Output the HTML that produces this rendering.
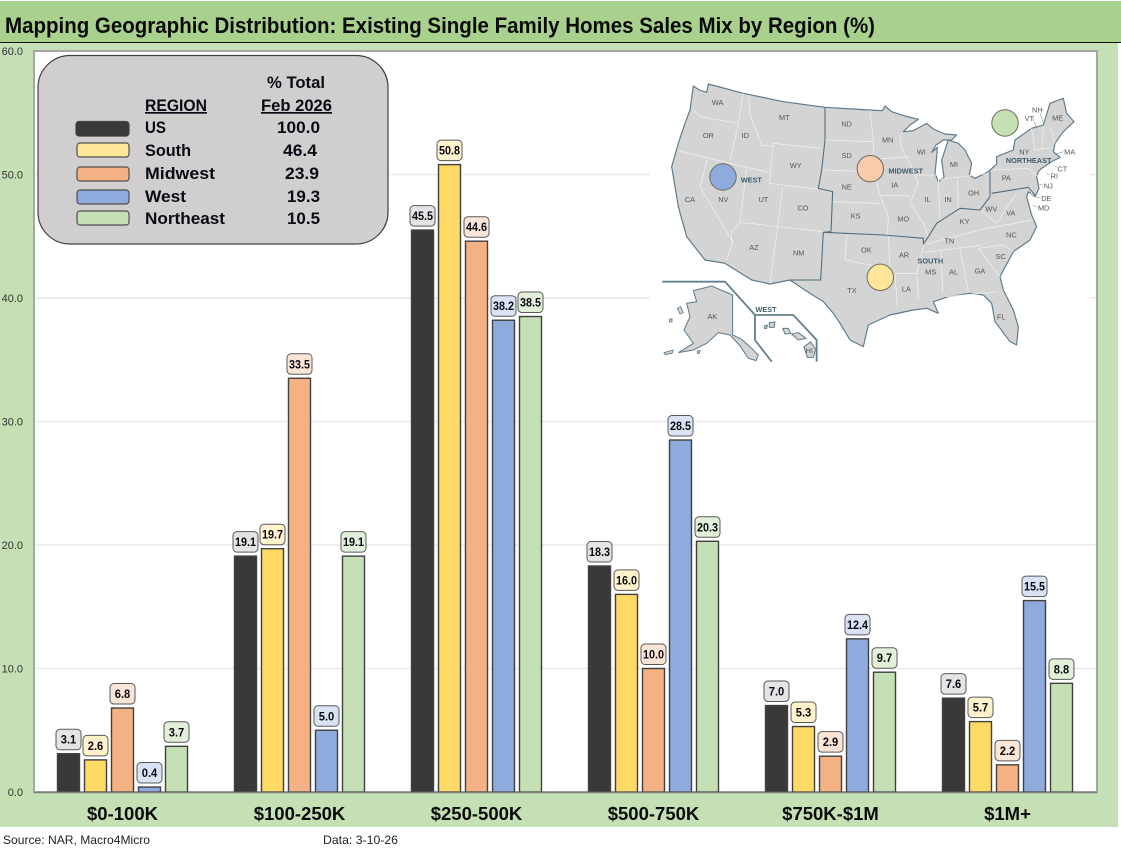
<!DOCTYPE html>
<html lang="en">
<head>
<meta charset="utf-8">
<title>Existing Single Family Homes Sales Mix by Region</title>
<style>
html,body{margin:0;padding:0;background:#fff;}
svg{display:block;font-family:"Liberation Sans",sans-serif;}
.st{font-size:22px;fill:#555;text-anchor:middle;}
.rg{font-size:22px;font-weight:bold;fill:#3d5a6c;text-anchor:middle;}
.lg{font-size:17px;font-weight:bold;fill:#0a0a14;}
</style>
</head>
<body>
<svg id="chart" width="1121" height="852" viewBox="0 0 1121 852" xmlns="http://www.w3.org/2000/svg">
  <rect x="0" y="0" width="1121" height="852" fill="#ffffff"/>
  <rect x="0" y="43" width="1118" height="784" fill="#c5e0b4"/>
  <rect x="0" y="1" width="1121" height="41" fill="#a9d18e"/>
  <line x1="0" y1="42.5" x2="1121" y2="42.5" stroke="#111" stroke-width="1"/>
  <text x="5" y="33" font-size="22" font-weight="bold" fill="#0a0a0a" textLength="870" lengthAdjust="spacingAndGlyphs">Mapping Geographic Distribution: Existing Single Family Homes Sales Mix by Region (%)</text>
  <rect x="34" y="51" width="1063" height="741" fill="#ffffff" stroke="#a6a6a6" stroke-width="2"/>
  <g id="grid"></g>
  <g id="yticks"></g>
  <rect x="650" y="60" width="440" height="310" fill="#ffffff"/>
  <g id="bars"></g>
  <g id="xlabels"></g>
  <line x1="34" y1="792.5" x2="1097" y2="792.5" stroke="#7f7f7f" stroke-width="1.5"/>
  <g id="labels"></g>

  <g>
    <rect x="38" y="55.5" width="350" height="188.5" rx="32" ry="32" fill="#d0cece" stroke="#404040" stroke-width="1.2"/>
    <text class="lg" x="267" y="88" textLength="58" lengthAdjust="spacingAndGlyphs">% Total</text>
    <text class="lg" x="145" y="111" textLength="62" lengthAdjust="spacingAndGlyphs" text-decoration="underline">REGION</text>
    <text class="lg" x="261" y="111" textLength="71" lengthAdjust="spacingAndGlyphs" text-decoration="underline">Feb 2026</text>
    <rect x="76" y="121.5" width="53" height="14.5" rx="3" fill="#3b3838" stroke="#404040" stroke-width="1.2"/>
    <rect x="77" y="143" width="52" height="14" rx="3" fill="#ffe699" stroke="#505050" stroke-width="1.2"/>
    <rect x="77" y="167" width="52" height="14" rx="3" fill="#f4b183" stroke="#505050" stroke-width="1.2"/>
    <rect x="77" y="190" width="52" height="14" rx="3" fill="#8faadc" stroke="#505050" stroke-width="1.2"/>
    <rect x="77" y="211" width="52" height="14" rx="3" fill="#c5e0b4" stroke="#505050" stroke-width="1.2"/>
    <text class="lg" x="145" y="133" textLength="21" lengthAdjust="spacingAndGlyphs">US</text>
    <text class="lg" x="145" y="156" textLength="46" lengthAdjust="spacingAndGlyphs">South</text>
    <text class="lg" x="145" y="179" textLength="70" lengthAdjust="spacingAndGlyphs">Midwest</text>
    <text class="lg" x="145" y="202" textLength="41" lengthAdjust="spacingAndGlyphs">West</text>
    <text class="lg" x="145" y="224" textLength="80" lengthAdjust="spacingAndGlyphs">Northeast</text>
    <text class="lg" x="277" y="133" textLength="43" lengthAdjust="spacingAndGlyphs">100.0</text>
    <text class="lg" x="283" y="156" textLength="34" lengthAdjust="spacingAndGlyphs">46.4</text>
    <text class="lg" x="285" y="179" textLength="34" lengthAdjust="spacingAndGlyphs">23.9</text>
    <text class="lg" x="287" y="202" textLength="33" lengthAdjust="spacingAndGlyphs">19.3</text>
    <text class="lg" x="287" y="224" textLength="33" lengthAdjust="spacingAndGlyphs">10.5</text>
  </g>

  <g transform="translate(650,60) scale(0.33333)" style="filter:blur(0.9px)">
    <path fill="#d4d4d4" stroke="#5d7a8c" stroke-width="3.5" stroke-linejoin="round" d="M130,78 L148,90 170,97 175,72 280,100 400,125 525,142 660,150 697,152 705,138 725,155 765,168 805,178 780,195 760,215 790,212 830,190 850,207 885,222 920,225 905,240 880,240 858,255 845,277 862,262 860,290 855,340 865,365 882,352 875,300 895,240 925,250 945,270 965,310 958,345 975,355 1015,335 1040,312 1040,290 1090,270 1095,240 1145,205 1180,195 1200,130 1240,115 1250,160 1272,185 1240,215 1215,250 1210,275 1230,292 1205,305 1175,325 1165,335 1160,350 1167,385 1155,410 1135,395 1130,410 1145,465 1160,500 1140,540 1090,575 1050,650 1060,690 1090,750 1105,800 1100,855 1080,845 1050,805 1035,785 1025,730 1000,705 960,700 895,710 850,725 865,760 830,745 790,750 720,765 655,795 640,860 600,840 570,790 550,760 520,725 480,700 420,660 360,672 305,660 225,610 165,600 110,530 85,440 65,320 85,250 105,190 120,150 Z"/>
    <g fill="none" stroke="#f0f0f0" stroke-width="2.2">
      <path d="M130,150 L150,170 265,190 M280,100 L265,190 240,305 M295,105 L300,165 320,215 335,255 370,260 M370,250 L515,265 M370,250 L358,370 505,388 M85,273 L240,310 358,338 M172,297 L150,380 248,545 230,600 M290,325 L270,487 245,515 245,545 M398,380 L383,500 360,670 M270,487 L520,515"/>
      <path d="M523,240 L670,245 M660,150 L670,245 670,330 690,405 715,470 712,525 M515,330 L670,335 M548,425 L690,430 M670,298 L780,290 M690,405 L780,408 M750,225 L755,265 780,310 805,370 780,430 820,490 835,530 M790,345 L860,345 M865,360 L870,480 M922,355 L925,445 M870,358 L1015,340"/>
      <path d="M830,552 L1010,505 1150,480 M815,578 L1000,555 M873,575 L878,700 M930,565 L955,695 M890,710 L1045,695 M985,565 L1050,650 M985,565 L1060,555 1090,575 M820,560 L800,640 805,720 M735,640 L742,740 M735,640 L805,640 M590,525 L585,600 660,615 720,625 M715,525 L720,625 M990,450 L1040,490 1100,400 M1030,330 L1135,325 1165,350 M1145,205 L1155,270 M1180,200 L1175,270 M1200,200 L1215,250 M1150,270 L1210,262 M1140,385 L1150,415"/>
    </g>
    <g fill="none" stroke="#4f6b7d" stroke-width="3.2" stroke-linejoin="round">
      <path d="M525,142 L525,240 515,330 505,385 548,395 543,515 M543,515 L520,517 512,660 420,660 M520,517 L700,525 820,535 820,552 835,530 860,490 930,445 990,450 1020,410 1020,335 M1025,400 L1135,382 1155,405"/>
    </g>
    <path fill="#d4d4d4" stroke="#5d7a8c" stroke-width="3" d="M130,692 L185,678 248,705 248,825 275,838 305,865 325,885 318,902 295,895 268,855 240,825 205,818 170,850 130,870 85,878 130,850 102,810 120,770 110,730 140,725 Z"/>
    <path fill="#d4d4d4" stroke="#5d7a8c" stroke-width="3" d="M398,805 L415,805 422,820 405,822 Z M425,822 L445,818 468,835 445,840 Z M462,860 L482,846 497,868 490,892 472,892 Z M358,788 L375,786 372,802 358,802 Z M343,798 L352,796 350,805 343,805 Z"/>
    <path fill="#d4d4d4" stroke="#5d7a8c" stroke-width="2.5" d="M82,745 L92,740 100,758 90,762 Z M58,778 L66,776 66,786 58,786 Z M42,878 L70,870 66,880 46,884 Z M142,872 L150,872 148,880 142,880 Z"/>
    <path fill="none" stroke="#64808f" stroke-width="5.5" d="M37,665 L225,665 315,765 430,765 500,840 500,905 M315,765 L315,840 365,905"/>
    <g fill="none" stroke="#777" stroke-width="1.5">
      <path d="M1148,172 L1160,205 M1170,160 L1180,188 M1215,283 L1240,275 M1215,318 L1222,322 M1190,340 L1198,345 M1168,372 L1180,376 M1155,410 L1172,414 M1148,436 L1162,442"/>
    </g>
    <g>
      <text class="st" x="203" y="135">WA</text>
      <text class="st" x="175" y="234">OR</text>
      <text class="st" x="286" y="234">ID</text>
      <text class="st" x="403" y="180">MT</text>
      <text class="st" x="437" y="324">WY</text>
      <text class="st" x="120" y="426">CA</text>
      <text class="st" x="220" y="426">NV</text>
      <text class="st" x="340" y="426">UT</text>
      <text class="st" x="459" y="451">CO</text>
      <text class="st" x="312" y="570">AZ</text>
      <text class="st" x="446" y="587">NM</text>
      <text class="st" x="590" y="200">ND</text>
      <text class="st" x="590" y="294">SD</text>
      <text class="st" x="590" y="388">NE</text>
      <text class="st" x="617" y="475">KS</text>
      <text class="st" x="713" y="247">MN</text>
      <text class="st" x="734" y="382">IA</text>
      <text class="st" x="760" y="484">MO</text>
      <text class="st" x="814" y="283">WI</text>
      <text class="st" x="833" y="426">IL</text>
      <text class="st" x="894" y="426">IN</text>
      <text class="st" x="912" y="321">MI</text>
      <text class="st" x="971" y="406">OH</text>
      <text class="st" x="944" y="492">KY</text>
      <text class="st" x="898" y="551">TN</text>
      <text class="st" x="1024" y="454">WV</text>
      <text class="st" x="1082" y="467">VA</text>
      <text class="st" x="1084" y="533">NC</text>
      <text class="st" x="1052" y="597">SC</text>
      <text class="st" x="990" y="641">GA</text>
      <text class="st" x="911" y="643">AL</text>
      <text class="st" x="842" y="644">MS</text>
      <text class="st" x="769" y="695">LA</text>
      <text class="st" x="762" y="593">AR</text>
      <text class="st" x="649" y="577">OK</text>
      <text class="st" x="606" y="699">TX</text>
      <text class="st" x="1054" y="779">FL</text>
      <text class="st" x="1069" y="361">PA</text>
      <text class="st" x="1123" y="283">NY</text>
      <text class="st" x="1223" y="181">ME</text>
      <text class="st" x="1162" y="157">NH</text>
      <text class="st" x="1138" y="183">VT</text>
      <text class="st" x="1259" y="283">MA</text>
      <text class="st" x="1237" y="334">CT</text>
      <text class="st" x="1213" y="356">RI</text>
      <text class="st" x="1195" y="385">NJ</text>
      <text class="st" x="1189" y="423">DE</text>
      <text class="st" x="1181" y="451">MD</text>
      <text class="st" x="187" y="777">AK</text>
      <text class="st" x="478" y="879">HI</text>
    </g>
    <text class="rg" x="304" y="367">WEST</text>
    <text class="rg" x="767" y="341">MIDWEST</text>
    <text class="rg" x="1136" y="309">NORTHEAST</text>
    <text class="rg" x="841" y="611">SOUTH</text>
    <text class="rg" x="348" y="756">WEST</text>
  </g>
  <g stroke="#6b6b5f" stroke-width="1">
    <circle cx="723" cy="177" r="13.2" fill="#8faadc"/>
    <circle cx="870.3" cy="168.7" r="13.2" fill="#f8cbad"/>
    <circle cx="1005" cy="123" r="13.2" fill="#c5e0b4"/>
    <circle cx="880.3" cy="277.3" r="13.2" fill="#ffe699"/>
  </g>

  <text x="3" y="844" font-size="12" fill="#222" textLength="147" lengthAdjust="spacingAndGlyphs">Source: NAR, Macro4Micro</text>
  <text x="323" y="844" font-size="12" fill="#222" textLength="75" lengthAdjust="spacingAndGlyphs">Data: 3-10-26</text>
</svg>
<script>
const categories = ["$0-100K", "$100-250K", "$250-500K", "$500-750K", "$750K-$1M", "$1M+"];
const usValues = [3.1, 19.1, 45.5, 18.3, 7.0, 7.6];
const southValues = [2.6, 19.7, 50.8, 16.0, 5.3, 5.7];
const midwestValues = [6.8, 33.5, 44.6, 10.0, 2.9, 2.2];
const westValues = [0.4, 5.0, 38.2, 28.5, 12.4, 15.5];
const northeastValues = [3.7, 19.1, 38.5, 20.3, 9.7, 8.8];
const yTicks = [0, 10, 20, 30, 40, 50, 60];

const series = [
  { key: "us", values: usValues, fill: "#3b3838", tint: "#e4e4e4" },
  { key: "south", values: southValues, fill: "#ffd966", tint: "#fff2cc" },
  { key: "midwest", values: midwestValues, fill: "#f4b183", tint: "#fbe5d6" },
  { key: "west", values: westValues, fill: "#8faadc", tint: "#dae3f3" },
  { key: "northeast", values: northeastValues, fill: "#c5e0b4", tint: "#e2f0d9" }
];

const NS = "http://www.w3.org/2000/svg";
const plotLeft = 34, plotRight = 1096, plotTop = 51, plotBottom = 792;
const barWidth = 22, barPitch = 27;

function yScale(v) { return plotBottom - (v / 60) * (plotBottom - plotTop); }
function xCenter(i) { return plotLeft + (i + 0.5) * (plotRight - plotLeft) / categories.length; }
function xBar(i, s) { return xCenter(i) + (s - (series.length - 1) / 2) * barPitch - barWidth / 2; }
function make(tag, attrs, parent, text) {
  const el = document.createElementNS(NS, tag);
  for (const k in attrs) el.setAttribute(k, attrs[k]);
  if (text !== undefined) el.textContent = text;
  parent.appendChild(el);
  return el;
}

const gridG = document.getElementById("grid");
const tickG = document.getElementById("yticks");
yTicks.forEach(function (t) {
  if (t > 0 && t < 60) {
    const gl = make("line", { x1: plotLeft + 1, x2: plotRight, y1: yScale(t), y2: yScale(t), stroke: "#e9e9e9", "stroke-width": 1.5 }, gridG);
    
    
  }
  const tl = make("text", { x: 23, y: yScale(t) + 4, "font-size": 11, fill: "#333", "text-anchor": "end" }, tickG, t.toFixed(1));
  
  
});

const barsG = document.getElementById("bars");
const labelsG = document.getElementById("labels");
const xG = document.getElementById("xlabels");
categories.forEach(function (c, i) {
  const cl = make("text", { x: xCenter(i), y: 820, "font-size": 18.5, "font-weight": "bold", fill: "#0a0a0a", "text-anchor": "middle" }, xG, c);
  
  
  series.forEach(function (s, j) {
    const v = s.values[i];
    const top = yScale(v);
    const b = make("rect", { x: xBar(i, j), y: top, width: barWidth, height: plotBottom - top, fill: s.fill, stroke: "#404040", "stroke-width": 1.4 }, barsG);
    
    
  });
  series.forEach(function (s, j) {
    const v = s.values[i];
    const top = yScale(v);
    const cx = xBar(i, j) + barWidth / 2;
    const box = make("rect", { x: cx - 12.5, y: top - 24.5, width: 25, height: 20.5, rx: 4, fill: s.tint, stroke: "#595959", "stroke-width": 1 }, labelsG);
    
    
    const tx = make("text", { x: cx, y: top - 10, "font-size": 12, "font-weight": "bold", fill: "#0a0a14", "text-anchor": "middle", textLength: v.toFixed(1).length > 3 ? 21 : 15.5, lengthAdjust: "spacingAndGlyphs" }, labelsG, v.toFixed(1));
    
    
  });
});
</script>
</body>
</html>
